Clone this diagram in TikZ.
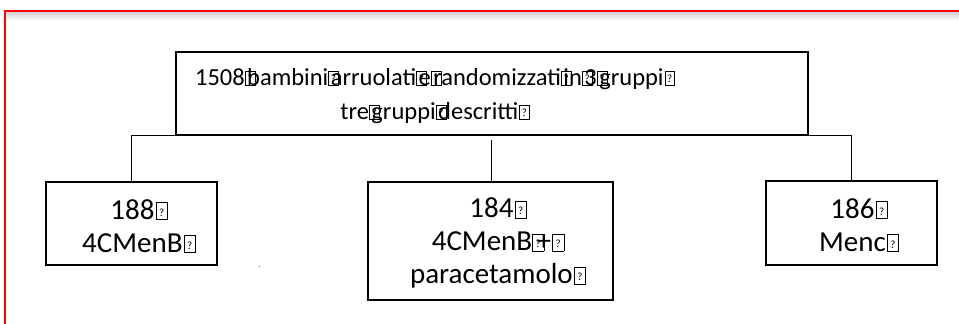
\documentclass[tikz,border=0pt]{standalone}
\usepackage{fontspec}
\setmainfont{Carlito}
\newcommand\gbox{{\setlength\fboxsep{0pt}\setlength\fboxrule{0.5pt}\fbox{\makebox[0.38em][c]{\rule{0pt}{0.56em}\raisebox{0.1em}{\fontsize{11}{11}\selectfont ?}}}}}
% missing-glyph box with a small advance (overlaps the next letter)
\newcommand\mg[1][0.1em]{\makebox[#1][l]{\gbox}}
% missing-glyph box at the end of a line
\newcommand\mge{\kern0.04em\gbox}
\tikzset{
  boxn/.style={draw=black, line width=1.3pt, rectangle, inner sep=0pt},
  txtbig/.style={font=\fontsize{24.5}{34}\selectfont, align=center, inner sep=0pt, text=black},
  txt/.style={font=\fontsize{29}{33}\selectfont, align=center, inner sep=0pt, text=black},
  conn/.style={draw=black, line width=1.3pt},
}
\begin{document}
\begin{tikzpicture}[x=1pt,y=-1pt]
\useasboundingbox (0,0) rectangle (959,324);
\clip (0,0) rectangle (959,324);
\fill[white] (0,0) rectangle (959,324);
% frame with shadow
\shade[top color=black!18, bottom color=white] (6,12) rectangle (970,21);
\draw[red!35, line width=2.6pt] (5,11) rectangle (975,340);
\draw[red, line width=1.2pt] (5,11) rectangle (975,340);
% boxes
\node[boxn, minimum width=632pt, minimum height=83pt] (main) at (492,93.5) {};
\node[boxn, minimum width=171pt, minimum height=83pt] (lbox) at (131.5,223.5) {};
\node[boxn, minimum width=245pt, minimum height=118pt] (mbox) at (490.5,241) {};
\node[boxn, minimum width=171pt, minimum height=84pt] (rbox) at (851.5,223) {};
% texts
\node[txtbig] (maint) at (435,96) {1508\mg bambini\mg arruolati\mg e\mg randomizzati\mg in\mg 3\mg gruppi\mge\\tre\mg gruppi\mg descritti\mge};
\node[txt] (lt) at (139,226) {188\mge\\4CMenB\mge};
\node[txt] (mt) at (498,243) {184\mge\\4CMenB\mg[0.15em]+\mge\\paracetamolo\mge};
\node[txt] (rt) at (859,225) {186\mge\\Menc\mge};
% connectors
\draw[conn] (lbox.north) |- (main.south) -| (rbox.north);
\coordinate (mtop) at (491.5,140);
\draw[conn] (mtop) -- (mbox.north -| mtop);
% speck
\fill[black!60] (258.5,265.5) rectangle (260,267);
\end{tikzpicture}
\end{document}
